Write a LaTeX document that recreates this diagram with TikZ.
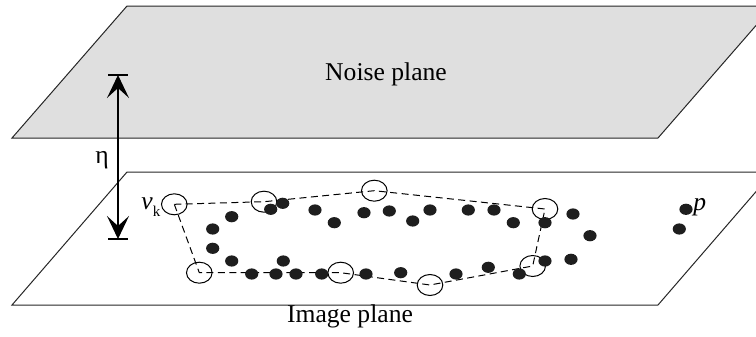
\documentclass[tikz,border=0pt]{standalone}
\usepackage{fontspec}
\setmainfont{Liberation Serif}
\usetikzlibrary{arrows.meta,shapes.geometric}
\definecolor{noisefill}{HTML}{DFDFDF}
\definecolor{dotfill}{HTML}{1E1E1E}
\tikzset{
  planeedge/.style={line width=0.5pt, draw=black!85},
  lbl/.style={inner sep=0pt, font=\fontsize{12.8}{15}\selectfont},
  vtx/.style={ellipse, draw, line width=0.5pt, minimum width=12.8pt, minimum height=10.5pt, inner sep=0pt},
  dotnode/.style={ellipse, fill=dotfill, minimum width=6.6pt, minimum height=5.6pt, inner sep=0pt},
  hull/.style={dashed, dash pattern=on 3.5pt off 2.2pt, line width=0.5pt},
  etaarrow/.style={line width=0.6pt, {Stealth[length=11.5pt,width=11pt,inset=5pt]}-{Stealth[length=11.5pt,width=11pt,inset=5pt]}},
}
\begin{document}
\begin{tikzpicture}[x=0.5pt,y=-0.5pt]
\useasboundingbox (0,0) rectangle (756,337);
\clip (0,0) rectangle (756,337);
% planes
\fill[noisefill] (12,138) -- (127,6) -- (773,6) -- (658,138) -- cycle;
\draw[planeedge] (12,138) -- (127,6) -- (773,6) -- (658,138) -- cycle;
\draw[planeedge] (12,305) -- (127,172) -- (773,172) -- (658,305) -- cycle;
% labels
\node[lbl, anchor=base] (noise) at (386,80) {Noise plane};
\node[lbl, anchor=base] (image) at (350,322) {Image plane};
\node[lbl, anchor=base] (eta) at (102,163) {η};
% arrow
\coordinate (atop) at (118,75);
\coordinate (abot) at (118,239);
\draw[etaarrow] (atop) -- (abot);
\draw[line width=0.6pt] ([xshift=-5pt]atop) -- ([xshift=5pt]atop);
\draw[line width=0.6pt] ([xshift=-5pt]abot) -- ([xshift=5pt]abot);
% hull vertices
\node[vtx] (c1) at (174.3,204.3) {};
\node[vtx] (c2) at (264,201.7) {};
\node[vtx] (c3) at (374.3,190.7) {};
\node[vtx] (c4) at (545,209) {};
\node[vtx] (c5) at (532.7,266) {};
\node[vtx] (c6) at (430,285) {};
\node[vtx] (c7) at (340.7,272.7) {};
\node[vtx] (c8) at (199.3,272.7) {};
\draw[hull] (c1.center) -- (c2.center) -- (c3.center) -- (c4.center) -- (c5.center) -- (c6.center) -- (c7.center) -- (c8.center) -- cycle;
% labels vk, p
\node[lbl, anchor=base west] (vk) at (141,209) {\textit{v}\raisebox{-3.5pt}{\fontsize{7.5}{9}\selectfont k}};
\node[lbl, anchor=base west] (plbl) at (693,210.5) {\textit{p}};
% dots
\foreach \i/\x/\y in {1/282.7/203.3, 2/270.7/209.3, 3/231.7/216.7, 4/212.7/229, 5/212.7/248.3, 6/231.7/261, 7/283.3/261, 8/251.7/274, 9/276/274, 10/296/274, 11/321.7/274, 12/366/274, 13/400.7/272.7, 14/315/210, 15/334.3/222.7, 16/364/212.7, 17/389.3/211, 18/412.7/221, 19/430/210, 20/468.3/210, 21/494/210, 22/513.3/222.7, 23/545/222.7, 24/573/214, 25/590/235.7, 26/571/259.3, 27/456/274, 28/488.3/267.3, 29/519.3/274, 30/545/261, 31/686/209.3, 32/679.3/229}
  \node[dotnode] (d\i) at (\x,\y) {};
\end{tikzpicture}
\end{document}
